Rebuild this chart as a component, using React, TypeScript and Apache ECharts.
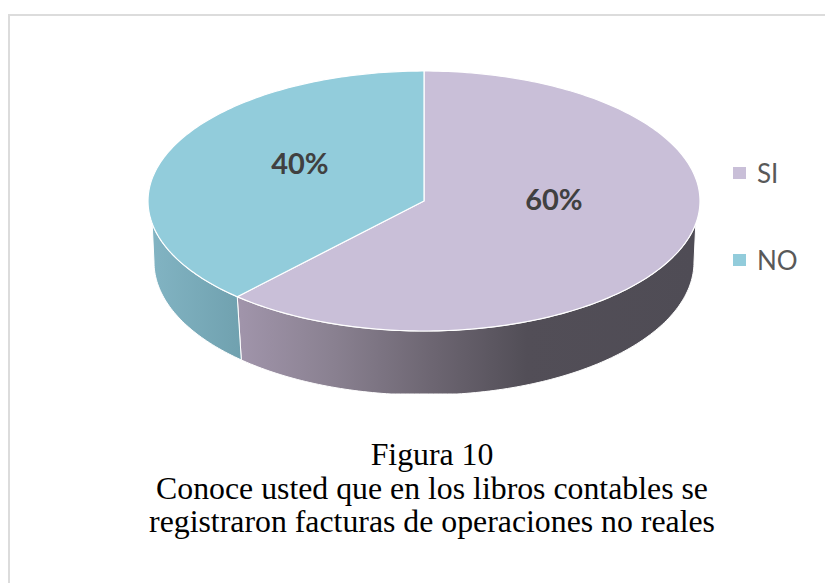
import React, { useEffect, useRef } from "react";
import * as echarts from "echarts";

const categories = ["SI", "NO"];
const values = [60, 40];
const topColors = ["#c9bfd8", "#92ccdb"];
const titleText =
  "Figura 10\nConoce usted que en los libros contables se\nregistraron facturas de operaciones no reales";

// Projection of the tilted disc
const CX = 424, CY = 201, RX = 276, RY = 130;
const BCY = 262, BRX = 270, BRY = 133, CLIP_Y = 394;
const WARP = 11.2;
const labelNudge = [[-7, -11], [-3, -7]];

const total = values.reduce((a, b) => a + b, 0);
const warp = (deg: number) => deg - WARP * Math.sin((deg * Math.PI) / 180);
const onEllipse = (cx: number, cy: number, rx: number, ry: number, t: number) => {
  const r = (t * Math.PI) / 180;
  return [cx + rx * Math.sin(r), Math.min(cy - ry * Math.cos(r), cy === BCY ? CLIP_Y : 9999)];
};
const arc = (cx: number, cy: number, rx: number, ry: number, a: number, b: number) => {
  const pts: number[][] = [];
  for (let t = a; t < b; t += 1) pts.push(onEllipse(cx, cy, rx, ry, t));
  pts.push(onEllipse(cx, cy, rx, ry, b));
  return pts;
};

const sideFills = [
  new echarts.graphic.LinearGradient(241, 0, 694, 0, [
    { offset: 0, color: "#a094aa" },
    { offset: 0.2, color: "#8a8191" },
    { offset: 0.42, color: "#6d6672" },
    { offset: 0.63, color: "#524e57" },
    { offset: 1, color: "#4f4c55" },
  ], true),
  new echarts.graphic.LinearGradient(150, 0, 241, 0, [
    { offset: 0, color: "#82b4c3" },
    { offset: 1, color: "#70a1af" },
  ], true),
];

const makeSeries = (i: number) => ({
  type: "custom",
  name: categories[i],
  coordinateSystem: "none",
  itemStyle: { color: topColors[i] },
  silent: true,
  data: [[values[i]]],
  renderItem: (_p: any, api: any) => {
    const v = api.value(0) as number;
    const before = values.slice(0, i).reduce((a, b) => a + b, 0);
    const a0 = (before / total) * 360;
    const a1 = a0 + (v / total) * 360;
    const t0 = warp(a0), t1 = warp(a1);
    const children: any[] = [];
    if (Math.max(t0, 100) < Math.min(t1, 260)) {
      const topEdge = arc(CX, CY, RX, RY, Math.max(t0, 100), Math.min(t1, 260));
      const botEdge = arc(CX, BCY, BRX, BRY, Math.max(t0, 90), Math.min(t1, 270)).reverse();
      children.push({
        type: "polygon",
        shape: { points: topEdge.concat(botEdge) },
        style: { fill: sideFills[i], stroke: "#ffffff", lineWidth: 1 },
      });
    }
    children.push({
      type: "polygon",
      shape: { points: [[CX, CY], ...arc(CX, CY, RX, RY, t0, t1)] },
      style: { fill: topColors[i], stroke: "#ffffff", lineWidth: 1.2 },
    });
    const mid = warp((a0 + a1) / 2);
    const p = onEllipse(CX, CY, RX / 2, RY / 2, mid);
    children.push({
      type: "text",
      x: p[0] + labelNudge[i][0],
      y: p[1] + labelNudge[i][1],
      style: {
        text: `${Math.round((v / total) * 100)}%`,
        fill: "#404040",
        font: 'bold 29px Lato, "Open Sans", sans-serif',
        align: "center",
        verticalAlign: "middle",
      },
    });
    return { type: "group", children };
  },
});

export default function App() {
  const ref = useRef<HTMLDivElement>(null);
  useEffect(() => {
    const chart = echarts.init(ref.current!, undefined, { renderer: "svg" });
    chart.setOption({
      animation: false,
      backgroundColor: "#ffffff",
      title: {
        text: titleText,
        left: 427,
        top: 433,
        textAlign: "center",
        textStyle: {
          fontFamily: '"Liberation Serif", serif',
          fontSize: 31.8,
          fontWeight: "normal",
          color: "#000000",
          lineHeight: 33.5,
        },
      },
      legend: {
        orient: "vertical",
        left: 728,
        top: 155,
        icon: "rect",
        itemWidth: 13,
        itemHeight: 12,
        itemGap: 61,
        selectedMode: false,
        data: categories,
        textStyle: {
          fontFamily: 'Lato, "Open Sans", sans-serif',
          fontSize: 26,
          color: "#595959",
          padding: [0, 0, 0, 6],
        },
      },
      graphic: [
        { type: "line", silent: true, shape: { x1: 8, y1: 15, x2: 825, y2: 15 }, style: { stroke: "#dcdcdc", lineWidth: 2 } },
        { type: "line", silent: true, shape: { x1: 9, y1: 15, x2: 9, y2: 583 }, style: { stroke: "#dcdcdc", lineWidth: 2 } },
      ],
      series: categories.map((_, i) => makeSeries(i)),
    });
    return () => chart.dispose();
  }, []);
  return <div ref={ref} style={{ position: "fixed", left: 0, top: 0, width: 825, height: 583 }} />;
}
